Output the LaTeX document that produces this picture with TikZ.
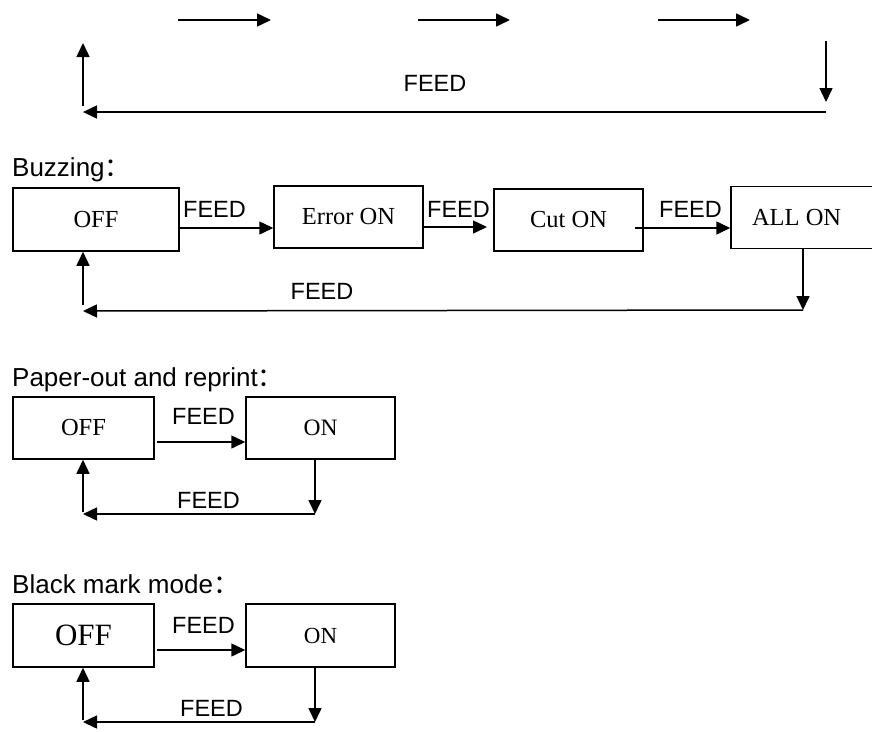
\documentclass[tikz,border=0pt]{standalone}
\usepackage{fontspec}
\setmainfont{Liberation Sans}
\newfontfamily\serifbox{Liberation Serif}
\newfontfamily\cjk{Noto Sans CJK SC}
\usetikzlibrary{arrows.meta}
\tikzset{
  arr/.style={line width=1.5pt,-{Triangle[length=14pt,width=13pt]}},
  statebox/.style={draw,line width=1.5pt,rectangle,inner sep=0pt,font=\serifbox\fontsize{24.5}{27}\selectfont},
  lbl/.style={font=\fontsize{23.5}{26}\selectfont,inner sep=0pt},
  title/.style={font=\fontsize{26}{29}\selectfont,inner sep=0pt,anchor=base west}
}
\begin{document}
\begin{tikzpicture}[x=1pt,y=-1pt]
\useasboundingbox (0,0) rectangle (872,731);
% ---------- top section ----------
\coordinate (t1a) at (178,20); \coordinate (t1b) at (271,20);
\coordinate (t2a) at (418,20); \coordinate (t2b) at (510,20);
\coordinate (t3a) at (658,20); \coordinate (t3b) at (750,20);
\coordinate (tua) at (83,106); \coordinate (tub) at (83,43);
\coordinate (tda) at (826,41); \coordinate (tdb) at (826,102);
\coordinate (tla) at (826,112); \coordinate (tlb) at (83,112);
\draw[arr] (t1a) -- (t1b);
\draw[arr] (t2a) -- (t2b);
\draw[arr] (t3a) -- (t3b);
\draw[arr] (tua) -- (tub);
\draw[arr] (tda) -- (tdb);
\draw[arr] (tla) -- (tlb);
\node[lbl,anchor=base] (tfeed) at (435,91) {FEED};
% ---------- Buzzing ----------
\node[title] (tbuzz) at (12,176) {Buzzing\cjk{：}};
\node[statebox,minimum width=166pt,minimum height=63pt] (boff) at (96,219.5) {OFF};
\node[statebox,minimum width=149pt,minimum height=62pt] (berr) at (348.5,217) {Error ON};
\node[statebox,minimum width=149pt,minimum height=62pt] (bcut) at (568.5,220) {Cut ON};
\node[statebox,minimum width=179pt,minimum height=62pt] (ball) at (820.5,217.5) {\makebox[137pt][l]{ALL ON}};
\draw[arr] (boff.east |- 0,228) -- (berr.west |- 0,228);
\draw[arr] (berr.east |- 0,227) -- (487,227) coordinate (bcuttip);
\draw[arr] (635,228) coordinate (bcutstart) -- (ball.west |- 0,228);
\node[lbl,anchor=base west] (bf1) at (183,217) {FEED};
\node[lbl,anchor=base west] (bf2) at (427,217) {FEED};
\node[lbl,anchor=base west] (bf3) at (659,217) {FEED};
\coordinate (bcorner) at (803,310);
\coordinate (bleft) at (83,311);
\draw[arr] (ball.south -| 803,0) -- (bcorner);
\draw[arr] (bcorner) -- (bleft);
\draw[arr] (83,305) coordinate (bup) -- (boff.south -| 83,0);
\node[lbl,anchor=base] (bf4) at (322,299) {FEED};
% ---------- Paper-out ----------
\node[title] (tpaper) at (12,386) {Paper-out and reprint\cjk{：}};
\node[statebox,minimum width=141pt,minimum height=62pt] (poff) at (83.5,428) {OFF};
\node[statebox,minimum width=149pt,minimum height=62pt,font=\serifbox\fontsize{23.5}{26}\selectfont] (pon) at (320.5,428) {ON};
\draw[arr] (157,442) coordinate (pstart) -- (pon.west |- 0,442);
\node[lbl,anchor=base west] (pf1) at (172,424) {FEED};
\coordinate (pcorner) at (315,514);
\coordinate (pleft) at (83,514);
\draw[arr] (pon.south -| 315,0) -- (pcorner);
\draw[arr] (pcorner) -- (pleft);
\draw[arr] (83,512) coordinate (pup) -- (poff.south -| 83,0);
\node[lbl,anchor=base west] (pf2) at (177,508) {FEED};
% ---------- Black mark ----------
\node[title] (tblack) at (12,593) {Black mark mode\cjk{：}};
\node[statebox,minimum width=141pt,minimum height=63pt,font=\serifbox\fontsize{31}{33}\selectfont] (koff) at (83.5,635.5) {OFF};
\node[statebox,minimum width=149pt,minimum height=63pt,font=\serifbox\fontsize{23}{25}\selectfont] (kon) at (320.5,635.5) {ON};
\draw[arr] (157,650) coordinate (kstart) -- (kon.west |- 0,650);
\node[lbl,anchor=base west] (kf1) at (172,633) {FEED};
\coordinate (kcorner) at (315,722);
\coordinate (kleft) at (83,722);
\draw[arr] (kon.south -| 315,0) -- (kcorner);
\draw[arr] (kcorner) -- (kleft);
\draw[arr] (83,720) coordinate (kup) -- (koff.south -| 83,0);
\node[lbl,anchor=base west] (kf2) at (180,716) {FEED};
\end{tikzpicture}
\end{document}
